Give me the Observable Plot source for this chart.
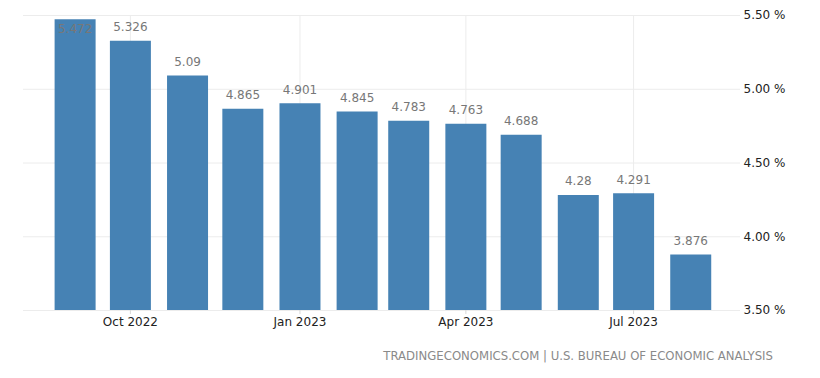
<!DOCTYPE html>
<html>
<head>
<meta charset="utf-8">
<script src="https://cdn.jsdelivr.net/npm/d3@7"></script>
<script src="https://cdn.jsdelivr.net/npm/@observablehq/plot@0.6"></script>
<style>
  body { margin: 0; background: #fff; width: 820px; height: 378px; position: relative; overflow: hidden; }
  #caption { position: absolute; top: 349px; right: 47px; font-family: "DejaVu Sans", sans-serif; font-size: 11.7px; color: #8a8a8a; white-space: nowrap; }
</style>
</head>
<body>
<div id="chart"></div>
<div id="caption">TRADINGECONOMICS.COM | U.S. BUREAU OF ECONOMIC ANALYSIS</div>
<script>
const months = ["2022-09-01","2022-10-01","2022-11-01","2022-12-01","2023-01-01","2023-02-01","2023-03-01","2023-04-01","2023-05-01","2023-06-01","2023-07-01","2023-08-01"];
const values = [5.472, 5.326, 5.09, 4.865, 4.901, 4.845, 4.783, 4.763, 4.688, 4.28, 4.291, 3.876];
const xTicks = ["2022-10-01","2023-01-01","2023-04-01","2023-07-01"];
const yTicks = [3.5, 4.0, 4.5, 5.0, 5.5];
const xDomain = ["2022-08-04","2023-08-28"];

const parse = s => new Date(s + "T00:00:00Z");
const data = months.map((m, i) => ({date: parse(m), value: values[i]}));
const xTickDates = xTicks.map(parse);
const fmt = d3.utcFormat("%b %Y");

const chart = Plot.plot({
  width: 820,
  height: 340,
  marginTop: 15,
  marginBottom: 30,
  marginLeft: 23,
  marginRight: 80,
  style: {fontFamily: "DejaVu Sans, sans-serif", fontSize: "12px", background: "#fff"},
  x: {type: "utc", domain: xDomain.map(parse)},
  y: {domain: [3.5, 5.5]},
  marks: [
    Plot.gridY(yTicks, {stroke: "#ececec", strokeOpacity: 1}),
    Plot.gridX(xTickDates, {stroke: "#ececec", strokeOpacity: 1}),
    Plot.ruleX(data, {x: "date", y1: 3.5, y2: "value", stroke: "#4682b4", strokeWidth: 41}),
    Plot.text(data.filter(d => d.value < 5.4), {x: "date", y: "value", text: d => String(d.value), dy: -14, fill: "#777", fontSize: 12}),
    Plot.text(data.filter(d => d.value >= 5.4), {x: "date", y: "value", text: d => String(d.value), dy: 10, fill: "#777", fontSize: 12}),
    Plot.axisX(xTickDates, {tickSize: 4, stroke: "#d8d8d8", tickFormat: () => "", label: null}),
    Plot.axisX(xTickDates, {tickSize: 0, tickPadding: 7, tickFormat: fmt, fill: "#222", fontSize: 12, label: null}),
    Plot.axisY(yTicks, {anchor: "right", tickSize: 0, tickPadding: 3, tickFormat: d => d.toFixed(2) + " %", fill: "#222", fontSize: 12, label: null})
  ]
});
document.getElementById("chart").appendChild(chart);
</script>
</body>
</html>
